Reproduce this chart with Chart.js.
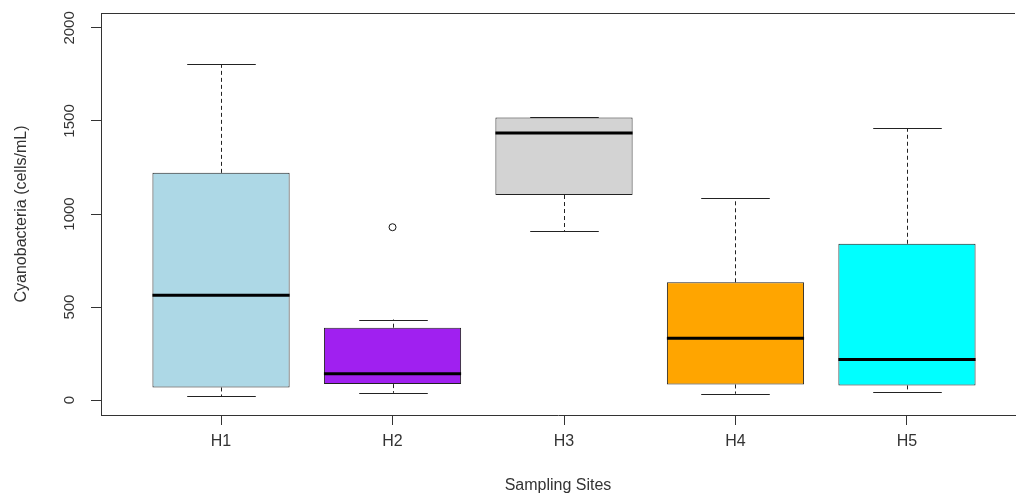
<!DOCTYPE html>
<html>
<head>
<meta charset="utf-8">
<script src="https://cdn.jsdelivr.net/npm/chart.js@4"></script>
<style>
body{margin:0;background:#fff;}
#wrap{width:1020px;height:497px;}
</style>
</head>
<body>
<div id="wrap"><canvas id="box" width="1020" height="497"></canvas></div>
<script>

/* DATA */

const sites = ["H1","H2","H3","H4","H5"];
const mins = [21, 39, 909, 34, 45];
const q1s = [68, 86, 1102, 84, 79];
const medians = [563, 141, 1435, 333, 218];
const q3s = [1221, 389, 1519, 633, 840];
const maxs = [1804, 433, 1519, 1084, 1462];
const outliers = [{site:2, value:929}];
const yTicks = [0, 500, 1000, 1500, 2000];
const colors = ["#ADD8E6","#A020F0","#D3D3D3","#FFA500","#00FFFF"];

const FONT = "'Liberation Sans', Arial, sans-serif";

/* WHISKERS, MEDIANS, TOP BORDER */

const boxExtras = {
id:"boxExtras",
beforeDatasetsDraw(chart){
const ctx=chart.ctx, xs=chart.scales.x, ys=chart.scales.y;
const bars=chart.getDatasetMeta(0).data;
ctx.save();
ctx.strokeStyle="#222";
ctx.lineWidth=1;
sites.forEach((s,i)=>{
const x=Math.round(xs.getPixelForValue(i+1))+0.5;
const cap=bars[i].width/4;
// dashed whiskers
ctx.setLineDash([4,3]);
ctx.beginPath();
if(maxs[i]>q3s[i]){
ctx.moveTo(x,ys.getPixelForValue(q3s[i]));
ctx.lineTo(x,ys.getPixelForValue(maxs[i]));
}
ctx.moveTo(x,ys.getPixelForValue(q1s[i]));
ctx.lineTo(x,ys.getPixelForValue(mins[i]));
ctx.stroke();
// caps
ctx.setLineDash([]);
ctx.beginPath();
[mins[i],maxs[i]].forEach(v=>{
const y=Math.round(ys.getPixelForValue(v))+0.5;
ctx.moveTo(x-cap,y);
ctx.lineTo(x+cap,y);
});
ctx.stroke();
});
// top of the box frame
const a=chart.chartArea;
ctx.strokeStyle="#333";
ctx.beginPath();
ctx.moveTo(a.left,a.top+0.5);
ctx.lineTo(a.right,a.top+0.5);
ctx.stroke();
ctx.restore();
},
afterDatasetsDraw(chart){
const ctx=chart.ctx, xs=chart.scales.x, ys=chart.scales.y;
const bars=chart.getDatasetMeta(0).data;
ctx.save();
ctx.strokeStyle="#000";
ctx.lineWidth=3;
sites.forEach((s,i)=>{
const x=xs.getPixelForValue(i+1);
const w=bars[i].width/2;
const y=ys.getPixelForValue(medians[i]);
ctx.beginPath();
ctx.moveTo(x-w,y);
ctx.lineTo(x+w,y);
ctx.stroke();
});
ctx.restore();
}
};

/* CHART */

const ctx=document.getElementById("box");

new Chart(ctx,{
type:"bar",
data:{
datasets:[{
type:"bar",
data:sites.map((s,i)=>({x:i+1,y:[q1s[i],q3s[i]]})),
backgroundColor:colors,
borderColor:"#222",
borderWidth:1,
borderSkipped:false,
categoryPercentage:1,
barPercentage:0.8
},{
type:"scatter",
data:outliers.map(o=>({x:o.site,y:o.value})),
pointRadius:3.5,
pointStyle:"circle",
backgroundColor:"#fff",
borderColor:"#111",
borderWidth:1
}]
},
options:{
responsive:false,
devicePixelRatio:1,
animation:false,
layout:{padding:{top:9,left:0,right:0,bottom:0}},
plugins:{legend:{display:false},tooltip:{enabled:false}},
scales:{
x:{
type:"linear",
min:0.3,
max:5.63,
offset:false,
afterBuildTicks:s=>{s.ticks=sites.map((n,i)=>({value:i+1}));},
afterFit:s=>{s.height=82;},
ticks:{
callback:v=>sites[v-1],
font:{family:FONT,size:16},
color:"#333",
padding:7,
maxRotation:0,
autoSkip:false
},
grid:{display:true,offset:false,drawOnChartArea:false,drawTicks:true,tickLength:10,color:"#333"},
border:{display:true,color:"#333",width:1},
title:{display:true,text:"Sampling Sites",font:{family:FONT,size:16},color:"#333",padding:{top:0,bottom:2}}
},
y:{
type:"linear",
min:-80,
max:2080,
afterBuildTicks:s=>{s.ticks=yTicks.map(v=>({value:v}));},
afterFit:s=>{s.width=101;},
ticks:{
callback:v=>String(v),
font:{family:FONT,size:15},
color:"#333",
minRotation:90,
maxRotation:90,
crossAlign:"center",
padding:4
},
grid:{display:true,drawOnChartArea:false,drawTicks:true,tickLength:10,color:"#333"},
border:{display:true,color:"#333",width:1},
title:{display:true,text:"Cyanobacteria (cells/mL)",font:{family:FONT,size:16},color:"#333",padding:{top:12,bottom:0}}
}
}
},
plugins:[boxExtras]
});

</script>
</body>
</html>
